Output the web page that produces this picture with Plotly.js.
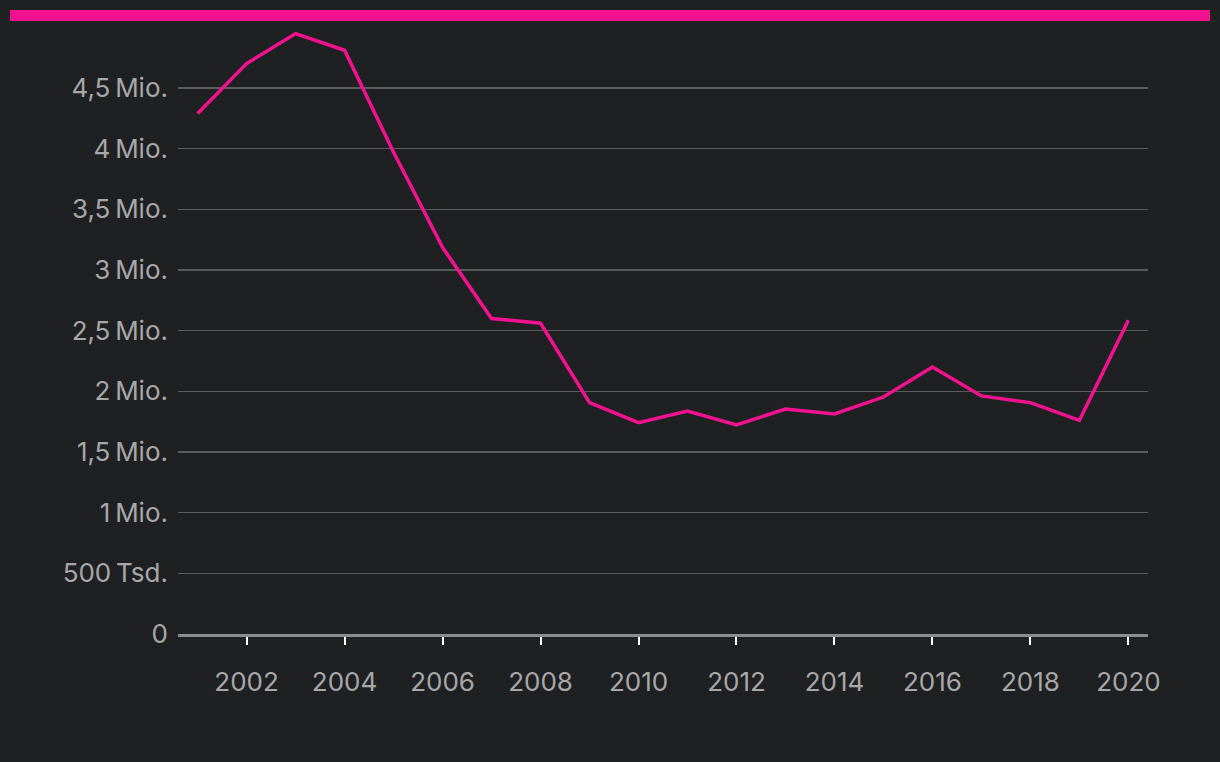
<!DOCTYPE html>
<html>
<head>
<meta charset="utf-8">
<script src="https://cdn.plot.ly/plotly-3.0.1.min.js"></script>
<style>
  html, body { margin: 0; padding: 0; background: #1f2022; }
  #wrap { position: relative; width: 1220px; height: 762px; background: #1f2022; }
  #bar { position: absolute; left: 10px; top: 10px; width: 1200px; height: 11px; background: #f2128f; }
  #chart { position: absolute; left: 0; top: 0; width: 1220px; height: 762px; }
</style>
</head>
<body>
<div id="wrap">
  <div id="chart"></div>
  <div id="bar"></div>
</div>
<script>
const years = [2001, 2002, 2003, 2004, 2005, 2006, 2007, 2008, 2009, 2010,
               2011, 2012, 2013, 2014, 2015, 2016, 2017, 2018, 2019, 2020];
const values = [4289000, 4701000, 4948000, 4811000, 3970000, 3186000, 2600000, 2561000, 1907000, 1742000,
                1838000, 1723000, 1854000, 1813000, 1953000, 2200000, 1962000, 1907000, 1761000, 2585000];
const yTickVals = [0, 500000, 1000000, 1500000, 2000000, 2500000, 3000000, 3500000, 4000000, 4500000];
const yTickText = ["0", "500\u2009Tsd.", "1\u2009Mio.", "1,5\u2009Mio.", "2\u2009Mio.", "2,5\u2009Mio.",
                   "3\u2009Mio.", "3,5\u2009Mio.", "4\u2009Mio.", "4,5\u2009Mio."];
const xTickVals = [2002, 2004, 2006, 2008, 2010, 2012, 2014, 2016, 2018, 2020];

const fontFam = "Inter, sans-serif";

const trace = {
  x: years,
  y: values,
  type: "scatter",
  mode: "lines",
  line: { color: "#f2128f", width: 3.5 },
  hoverinfo: "x+y"
};

const layout = {
  width: 1220,
  height: 762,
  paper_bgcolor: "#1f2022",
  plot_bgcolor: "#1f2022",
  margin: { l: 178, r: 72, t: 25, b: 128, pad: 0 },
  showlegend: false,
  font: { family: fontFam, color: "#a8a8a8", size: 26 },
  xaxis: {
    range: [2000.6, 2020.4],
    tickvals: xTickVals,
    ticktext: xTickVals.map(String),
    ticks: "outside",
    ticklen: 8,
    tickwidth: 2,
    tickcolor: "#ffffff",
    showgrid: false,
    zeroline: false,
    showline: true,
    linecolor: "#8c8c8c",
    linewidth: 3,
    ticklabelstandoff: 15,
    tickfont: { family: fontFam, color: "#a8a8a8", size: 26 },
    fixedrange: true
  },
  yaxis: {
    range: [0, 5019000],
    tickvals: yTickVals,
    ticktext: yTickText,
    ticks: "",
    showgrid: true,
    gridcolor: "#5a5b5d",
    gridwidth: 1.5,
    zeroline: false,
    showline: false,
    ticklabelstandoff: 9,
    tickfont: { family: fontFam, color: "#a8a8a8", size: 26 },
    fixedrange: true
  }
};

Plotly.newPlot("chart", [trace], layout, { displayModeBar: false, staticPlot: true });
</script>
</body>
</html>
